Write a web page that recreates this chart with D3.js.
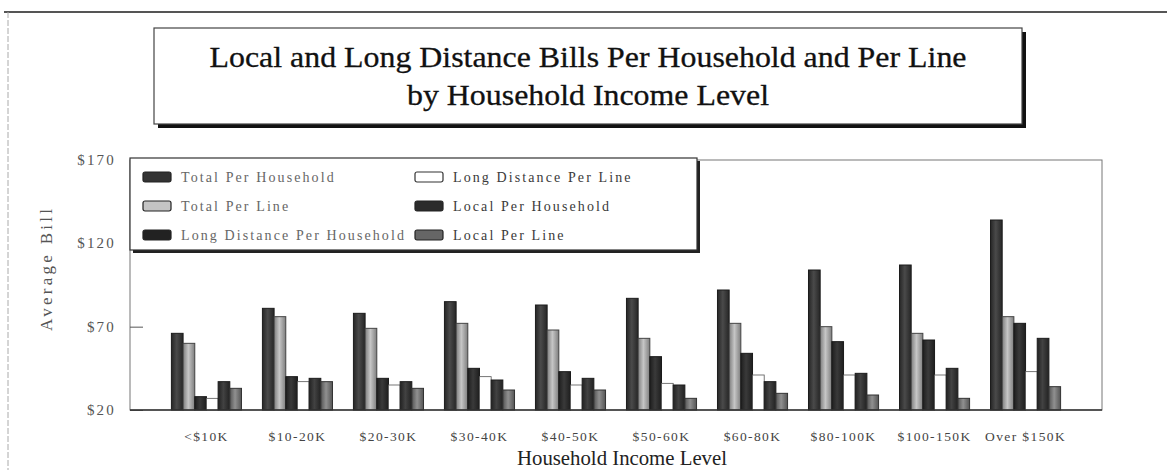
<!DOCTYPE html>
<html>
<head>
<meta charset="utf-8">
<script src="https://cdn.jsdelivr.net/npm/d3@7"></script>
<style>
  html, body { margin: 0; padding: 0; background: #fff; }
  svg { display: block; }
  text { font-family: "Liberation Serif", "Times New Roman", serif; }
</style>
</head>
<body>
<svg id="chart" width="1167" height="470"></svg>
<script>
// Income brackets along the x axis
const categories = ["<$10K", "$10-20K", "$20-30K", "$30-40K", "$40-50K",
                    "$50-60K", "$60-80K", "$80-100K", "$100-150K", "Over $150K"];

// Average monthly bill in dollars, one array per series
const totalPerHousehold   = [66, 81, 78, 85, 83, 87, 92, 104, 107, 134];
const totalPerLine        = [60, 76, 69, 72, 68, 63, 72, 70, 66, 76];
const ldPerHousehold      = [28, 40, 39, 45, 43, 52, 54, 61, 62, 72];
const ldPerLine           = [27, 37, 35, 40, 35, 36, 41, 41, 41, 43];
const localPerHousehold   = [37, 39, 37, 38, 39, 35, 37, 42, 45, 63];
const localPerLine        = [33, 37, 33, 32, 32, 27, 30, 29, 27, 34];

const seriesNames = ["Total Per Household", "Total Per Line", "Long Distance Per Household",
                     "Long Distance Per Line", "Local Per Household", "Local Per Line"];
const seriesValues = [totalPerHousehold, totalPerLine, ldPerHousehold,
                      ldPerLine, localPerHousehold, localPerLine];

const yTicks = [20, 70, 120, 170];
const yTickLabels = ["$20", "$70", "$120", "$170"];

const titleLines = ["Local and Long Distance Bills Per Household and Per Line",
                    "by Household Income Level"];

// ---------------------------------------------------------------
const svg = d3.select("#chart");
const plot = { left: 130, right: 1102, top: 160, bottom: 410 };

const x0 = d3.scaleBand()
  .domain(categories)
  .range([plot.left, plot.right])
  .paddingInner(0.23)
  .paddingOuter(0.455);

const x1 = d3.scaleBand()
  .domain(d3.range(seriesNames.length))
  .range([0, x0.bandwidth()]);

const y = d3.scaleLinear().domain([20, 170]).range([plot.bottom, plot.top]);

// Fills: shaded horizontal gradients give the bars their printed look
const defs = svg.append("defs");
function shade(id, edge, mid) {
  const g = defs.append("linearGradient").attr("id", id)
    .attr("x1", "0").attr("x2", "1").attr("y1", "0").attr("y2", "0");
  g.append("stop").attr("offset", "0%").attr("stop-color", edge);
  g.append("stop").attr("offset", "45%").attr("stop-color", mid);
  g.append("stop").attr("offset", "100%").attr("stop-color", edge);
}
shade("g-tph", "#262626", "#4a4a4a");
shade("g-tpl", "#7e7e7e", "#c6c6c6");
shade("g-ldh", "#1e1e1e", "#3a3a3a");
shade("g-loh", "#222", "#424242");
shade("g-lpl", "#555", "#909090");

const fills = ["url(#g-tph)", "url(#g-tpl)", "url(#g-ldh)", "#ffffff", "url(#g-loh)", "url(#g-lpl)"];
const strokes = ["#1c1c1c", "#444", "#1a1a1a", "#555", "#1c1c1c", "#333"];
const swatchFills = ["#333", "#c4c4c4", "#222", "#fff", "#2b2b2b", "#666"];

// Page frame
svg.append("line").attr("x1", 4).attr("x2", 1167).attr("y1", 12).attr("y2", 12)
  .attr("stroke", "#555").attr("stroke-width", 2);
svg.append("line").attr("x1", 8).attr("x2", 8).attr("y1", 12).attr("y2", 470)
  .attr("stroke", "#aaa").attr("stroke-width", 1).attr("stroke-dasharray", "6,2");

// Title box with drop shadow
const tb = { x: 154, y: 28, w: 868, h: 96 };
svg.append("rect").attr("x", tb.x + 4).attr("y", tb.y + 4).attr("width", tb.w).attr("height", tb.h)
  .attr("fill", "#111");
svg.append("rect").attr("x", tb.x).attr("y", tb.y).attr("width", tb.w).attr("height", tb.h)
  .attr("fill", "#fff").attr("stroke", "#444").attr("stroke-width", 1.2);
const tcx = tb.x + tb.w / 2;
svg.append("text").attr("x", tcx).attr("y", 67).attr("text-anchor", "middle")
  .attr("font-size", 30).attr("fill", "#111").attr("stroke", "#111").attr("stroke-width", 0.3)
  .attr("textLength", 757).attr("lengthAdjust", "spacingAndGlyphs")
  .text(titleLines[0]);
svg.append("text").attr("x", tcx).attr("y", 105).attr("text-anchor", "middle")
  .attr("font-size", 30).attr("fill", "#111").attr("stroke", "#111").attr("stroke-width", 0.3)
  .attr("textLength", 362).attr("lengthAdjust", "spacingAndGlyphs")
  .text(titleLines[1]);

// Plot frame
svg.append("rect").attr("x", plot.left).attr("y", plot.top)
  .attr("width", plot.right - plot.left).attr("height", plot.bottom - plot.top)
  .attr("fill", "none").attr("stroke", "#777").attr("stroke-width", 1);

// Y axis: inward ticks
const yAxis = d3.axisLeft(y).tickValues(yTicks)
  .tickFormat((d, i) => yTickLabels[i]).tickSize(-13).tickPadding(14);
const yg = svg.append("g").attr("transform", `translate(${plot.left},0)`).call(yAxis);
yg.select(".domain").remove();
yg.selectAll(".tick line").attr("stroke", "#555");
yg.selectAll(".tick text").attr("font-family", "Liberation Serif, serif")
  .attr("font-size", 15).attr("fill", "#555").attr("letter-spacing", 2.2).attr("dy", "0.3em");

// Bars
const groups = svg.append("g").selectAll("g")
  .data(categories)
  .join("g")
  .attr("transform", d => `translate(${x0(d)},0)`);

groups.selectAll("rect")
  .data((c, ci) => seriesValues.map((vals, si) => ({ si, v: vals[ci] })))
  .join("rect")
  .attr("x", d => x1(d.si))
  .attr("y", d => y(d.v))
  .attr("width", x1.bandwidth())
  .attr("height", d => y(20) - y(d.v))
  .attr("fill", d => fills[d.si])
  .attr("stroke", d => strokes[d.si])
  .attr("stroke-width", d => d.si === 3 ? 0.8 : 1);

// Baseline
svg.append("line").attr("x1", plot.left).attr("x2", plot.right)
  .attr("y1", plot.bottom).attr("y2", plot.bottom)
  .attr("stroke", "#333").attr("stroke-width", 1.5);

// X axis labels
const xAxis = d3.axisBottom(x0).tickSize(0).tickPadding(21);
const xg = svg.append("g").attr("transform", `translate(0,${plot.bottom})`).call(xAxis);
xg.select(".domain").remove();
xg.selectAll(".tick text").attr("font-family", "Liberation Serif, serif")
  .attr("font-size", 13.5).attr("fill", "#444").attr("letter-spacing", 1.4);

// Axis titles
svg.append("text").attr("x", 622).attr("y", 465).attr("text-anchor", "middle")
  .attr("font-size", 20).attr("fill", "#222")
  .attr("textLength", 210).attr("lengthAdjust", "spacingAndGlyphs")
  .text("Household Income Level");
svg.append("text")
  .attr("transform", "translate(52,270) rotate(-90)")
  .attr("text-anchor", "middle").attr("font-size", 17).attr("fill", "#555")
  .attr("textLength", 122).attr("lengthAdjust", "spacing")
  .text("Average Bill");

// Legend box with drop shadow
const lb = { x: 130, y: 158, w: 567, h: 92 };
svg.append("rect").attr("x", lb.x + 3).attr("y", lb.y + 3).attr("width", lb.w).attr("height", lb.h)
  .attr("fill", "#222");
svg.append("rect").attr("x", lb.x).attr("y", lb.y).attr("width", lb.w).attr("height", lb.h)
  .attr("fill", "#fff").attr("stroke", "#333").attr("stroke-width", 1.2);

const legendCols = [143, 415];
const legendRows = [177, 206, 235];
const legend = svg.append("g").selectAll("g")
  .data(seriesNames)
  .join("g")
  .attr("transform", (d, i) => `translate(${legendCols[Math.floor(i / 3)]},${legendRows[i % 3]})`);
legend.append("rect")
  .attr("x", 0).attr("y", -5).attr("width", 28).attr("height", 10).attr("rx", 2)
  .attr("fill", (d, i) => swatchFills[i])
  .attr("stroke", (d, i) => i === 3 ? "#333" : "#222").attr("stroke-width", 1.2);
legend.append("text")
  .attr("x", 38).attr("y", 5)
  .attr("font-size", 14)
  .attr("letter-spacing", 2.1)
  .attr("fill", (d, i) => i < 3 ? "#666" : "#3a3a3a")
  .text(d => d);
</script>
</body>
</html>
